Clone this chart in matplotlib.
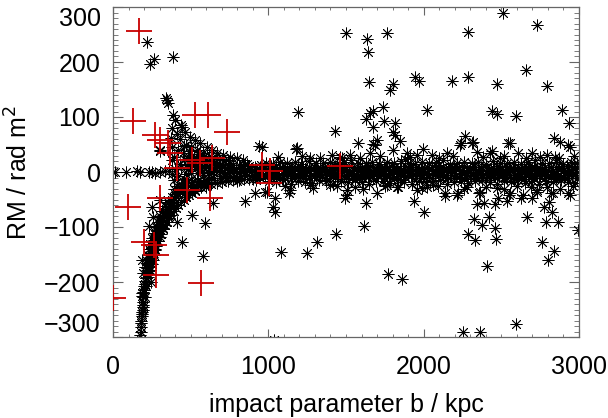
import matplotlib
matplotlib.use("Agg")
import matplotlib.pyplot as plt
from matplotlib.ticker import MultipleLocator

plt.rcParams['font.family'] = ['Liberation Sans', 'DejaVu Sans']

# ---------------- data ----------------
# dense band of sources around RM ~ 0
band_b_a = [460, 495, 528, 566, 601, 634, 671, 703, 740, 772, 808, 843, 877, 912, 948, 981, 1017, 1050, 1086, 1119,
            1155, 1190, 1224, 1259, 1293, 1330, 1362, 1398, 1431, 1467, 1500, 1536, 1570, 1605, 1639, 1674, 1709,
            1743, 1778, 1812, 1848, 1881, 1917, 1950, 1986, 2019, 2055, 2090, 2124, 2158, 2193, 2229, 2262, 2298,
            2331, 2367, 2400, 2436, 2470, 2505, 2539, 2574, 2609, 2643, 2678, 2712, 2748, 2781, 2817, 2850, 2886,
            2920, 2955, 2990]
band_b_b = [478, 511, 547, 583, 617, 652, 687, 722, 756, 790, 825, 860, 895, 930, 964, 999, 1034, 1068, 1102, 1137,
            1172, 1207, 1241, 1276, 1311, 1346, 1380, 1414, 1449, 1484, 1518, 1553, 1588, 1622, 1657, 1691, 1726,
            1760, 1795, 1830, 1864, 1899, 1933, 1968, 2002, 2037, 2072, 2107, 2141, 2176, 2211, 2245, 2280, 2315,
            2349, 2384, 2418, 2453, 2488, 2522, 2557, 2591, 2626, 2661, 2695, 2730, 2765, 2799, 2834, 2868, 2903,
            2938, 2972]
band_b_c = [470, 505, 540, 575, 610, 645, 680, 713, 748, 781, 816, 851, 886, 921, 956, 990, 1025, 1059, 1094, 1128,
            1163, 1198, 1232, 1267, 1302, 1337, 1371, 1406, 1440, 1475, 1509, 1544, 1579, 1613, 1648, 1683, 1717,
            1752, 1786, 1821, 1856, 1890, 1925, 1959, 1994, 2028, 2063, 2098, 2132, 2167, 2202, 2237, 2271, 2306,
            2340, 2375, 2409, 2444, 2479, 2513, 2548, 2583, 2617, 2652, 2687, 2721, 2756, 2790, 2825, 2859, 2894,
            2929, 2963, 2997]
band_rm_a = [24, 22, 19, 20, 17, 16, 15, 14, 13, 12, 12, 11, 11,
             9, 10, 8, 11, 9, 10, 8, 9, 11, 8, 10, 9, 7, 10, 9, 11, 8, 9, 10, 8, 9, 11, 10, 8, 9, 10, 9, 8, 11, 9,
             10, 8, 9, 10, 11, 9, 8, 10, 9, 11, 8, 9, 10, 9, 8, 11, 10, 9, 8, 10, 9, 11, 9, 8, 10, 9, 10, 8, 11, 9, 10]
band_rm_e = [-40, -36, -32, -28, -25, -22, -20, -18, -16, -15, -14, -13, -12,
             -9, -11, -8, -10, -9, -12, -8, -10, -9, -11, -10, -8, -9, -11, -10, -9, -12, -8, -10, -9, -11, -9,
             -10, -8, -11, -9, -10, -12, -9, -8, -10, -11, -9, -10, -8, -9, -11, -10, -9, -12, -8, -10, -9, -11,
             -9, -10, -8, -11, -10, -9, -12, -9, -10, -8, -11, -9, -10, -9, -11, -8, -10]
band_rm_b = [12, 11, 10, 9, 8, 8, 7, 7, 6, 6, 5, 5,
             4, 3, 5, 4, 2, 5, 3, 4, 6, 3, 4, 5, 2, 4, 3, 5, 4, 6, 3, 4, 5, 3, 4, 2, 5, 4, 3, 6, 4, 5, 3, 4, 2, 5,
             4, 3, 5, 4, 6, 3, 4, 5, 3, 4, 2, 5, 4, 3, 5, 4, 6, 3, 4, 5, 3, 4, 2, 5, 4, 3, 5]
band_rm_d = [-20, -18, -16, -14, -12, -11, -10, -9, -8, -7, -7, -6,
             -5, -4, -6, -5, -3, -6, -4, -5, -7, -4, -5, -6, -3, -5, -4, -6, -5, -7, -4, -5, -6, -4, -5, -3, -6,
             -5, -4, -7, -5, -6, -4, -5, -3, -6, -5, -4, -6, -5, -7, -4, -5, -6, -4, -5, -3, -6, -5, -4, -6, -5,
             -7, -4, -5, -6, -4, -5, -3, -6, -5, -4, -6]
band_rm_c = [-3, -2, -1, 0, -1, 0, 1, 0, -1, 0, 1, 0, 0,
             0, 1, -1, 0, 2, -1, 0, 1, -2, 0, 1, -1, 0, 2, 0, -1, 1, 0, -2, 1, 0, -1, 0, 2, -1, 1, 0, -1, 0, 1,
             -2, 0, 1, -1, 0, 2, 0, -1, 1, 0, -1, 0, 2, -1, 1, 0, -1, 0, 1, -2, 0, 1, -1, 0, 2, 0, -1, 1, 0, -1, 0]

# fringe of the band
halo_up_b = [985, 1030, 1078, 1121, 1170, 1213, 1262, 1304, 1350, 1397, 1441, 1488, 1533, 1579, 1626, 1668, 1715,
             1761, 1806, 1852, 1897, 1944, 1990, 2033, 2080, 2125, 2171, 2217, 2262, 2308, 2353, 2399, 2445, 2490,
             2536, 2580, 2627, 2672, 2718, 2763, 2809, 2855, 2900, 2946, 2990]
halo_up_rm = [17, 15, 19, 16, 18, 15, 20, 17, 16, 19, 15, 18, 21, 16, 17, 19, 15, 18, 16, 20, 17, 15, 19, 16, 18,
              21, 15, 17, 19, 16, 18, 15, 20, 17, 16, 19, 15, 18, 21, 16, 17, 19, 15, 18, 16]
halo_dn_b = [1003, 1052, 1097, 1144, 1190, 1236, 1281, 1327, 1373, 1419, 1465, 1510, 1556, 1602, 1648, 1693, 1739,
             1785, 1830, 1876, 1922, 1967, 2013, 2058, 2104, 2150, 2196, 2241, 2287, 2333, 2378, 2424, 2470, 2515,
             2561, 2607, 2652, 2698, 2744, 2789, 2835, 2881, 2926, 2972]
halo_dn_rm = [-17, -19, -15, -21, -16, -18, -20, -15, -17, -22, -16, -19, -15, -18, -21, -17, -16, -20, -15, -18,
              -22, -16, -19, -17, -15, -21, -18, -16, -20, -17, -15, -19, -22, -16, -18, -15, -20, -17, -21, -16,
              -19, -15, -18, -20]
outer_b = [1060, 1215, 1330, 1460, 1590, 1720, 1880, 1910, 2100, 2190, 2380, 2520, 2660, 2750, 2870, 2970,
           1110, 1290, 1440, 1560, 1610, 1750, 1990, 2090, 2260, 2400, 2520, 2600, 2690, 2880, 2960]
outer_rm = [27, 30, 25, 28, 26, 30, 24, 28, 26, 29, 27, 30, 25, 28, 26, 29,
            -26, -29, -25, -28, -31, -26, -29, -25, -31, -27, -30, -26, -28, -30, -26]

# where the two arms merge
wedge_b = [360, 380, 400, 420, 440, 460, 480, 500, 520, 540, 560, 580, 600, 630, 660, 690, 720, 760, 800, 850,
           900, 950, 395, 430, 465, 500, 535, 570, 610, 650, 700, 750, 800, 860, 920, 410, 445, 480, 520, 560,
           600, 640]
wedge_rm = [2, -3, 5, -8, 10, -12, 6, -2, 14, -18, 8, -5, 12, -10, 4, 13, -8, 9, -11, 14, -13, 12,
            -15, 15, -20, 20, -25, 25, -22, 18, -18, 17, -16, 14, -14, -25, -28, 24, -30, 30, -28, 26]

# sources with RM = 0 at small impact parameter
zero_b = [3, 13, 84, 155, 174, 232, 251, 270, 303, 335]
zero_rm = [0, 0, 0, 1, 0, 0, 0, -1, 0, 1]

# upper arm (positive RM converging to zero)
upper_b = [341, 354, 387, 380, 444, 373, 380, 303, 393, 437, 463, 496, 528, 560, 605, 637, 669, 708, 753, 798,
           837, 303, 380, 410, 430, 470, 500, 540, 580, 620, 660, 700, 740, 420, 450, 480, 520, 560, 600, 345,
           400, 455, 490, 545, 585, 640, 690]
upper_rm = [134, 125, 104, 80, 82, 62, 45, 38, 27, 85, 73, 64, 58, 53, 45, 40, 35, 31, 27, 25,
            22, 40, 22, 70, 60, 50, 45, 40, 35, 30, 27, 24, 21, 40, 35, 30, 28, 25, 22, 131,
            95, 48, 38, 33, 30, 18, 15]

# lower arm (negative RM converging to zero)
lower_b = [174, 178, 180, 183, 187, 185, 190, 193, 188, 196, 200, 206, 212, 219, 225, 222, 232, 238, 243, 248,
           252, 258, 265, 270, 278, 285, 292, 300, 308, 316, 325, 334, 343, 352, 362, 372, 383, 394, 406, 418,
           431, 445, 460,
           238, 248, 255, 262, 270, 280, 290, 300, 312, 322, 335, 348, 360, 375, 390, 405, 420, 437, 455, 472,
           490, 510, 530,
           215, 225, 232, 240, 250, 262, 275, 288, 300, 318, 335, 355, 378, 400, 425, 450,
           232, 258, 251, 303, 206, 193, 187, 187, 245, 395, 415, 440, 470, 500, 540, 580]
lower_rm = [-296, -290, -282, -270, -262, -255, -246, -236, -226, -218, -208, -199, -192, -186, -180, -172, -165,
            -158, -150, -143, -136, -130, -124, -118, -112, -106, -100, -95, -89, -84, -78, -73, -68, -63, -59,
            -55, -51, -47, -43, -40, -37, -34, -31,
            -178, -168, -160, -150, -142, -134, -126, -119, -112, -104, -97, -90, -84, -78, -71, -66, -60, -55,
            -50, -46, -42, -38, -34,
            -160, -150, -140, -130, -120, -110, -100, -90, -80, -70, -62, -54, -46, -40, -34, -28,
            -98, -82, -64, -51, -173, -184, -160, -220, -200, -30, -25, -22, -20, -24, -22, -18]
arm2_b = [182, 186, 190, 195, 199, 204, 210, 216, 222, 229, 236, 244, 252, 260, 268, 277, 286, 296, 306, 317,
          328, 340, 352, 365, 378]
arm2_rm = [-275, -258, -242, -228, -215, -203, -193, -183, -174, -165, -156, -147, -139, -131, -123, -115, -108,
           -101, -94, -87, -80, -74, -68, -62, -57]
arm3_b = [196, 205, 214, 226, 238, 252, 268, 284, 302, 320, 340, 362]
arm3_rm = [-250, -228, -208, -190, -172, -155, -140, -126, -113, -101, -90, -80]

# scattered sources
scat_b = [219, 264, 238, 386,
          1500, 1635, 1764, 1642, 1648, 1803, 1783, 1944, 1970,
          1191, 1738, 1655, 1674, 1629, 1745, 1815, 1674, 1803, 1815, 1429, 1848, 1577, 1674, 1700, 2022, 1185,
          959, 2286, 2511, 2730, 2183, 2286, 2472, 2659, 2794, 2440, 2472, 2595, 2891, 2936, 2266, 2240, 2318,
          2440, 2556, 2698, 2839, 2878, 2930, 2150, 1996,
          1410, 1687, 1526, 1655, 1803, 1893, 1957, 2054, 2234, 2311, 2343, 2427, 2543, 2607, 2794, 2942, 2846,
          1268, 1474, 2491, 940, 1178,
          2002, 2137, 2214, 2356, 2343, 2388, 2459, 2479, 2537, 2549, 2627, 2698, 2665, 2421, 2324, 2376, 2459,
          2286, 2330, 2466, 2775, 2807, 2826, 2788, 2865, 2762, 2839, 2801, 2408, 2595, 2253, 2363, 2942, 2730,
          2820, 2021,
          1082, 1249, 1313, 1436, 1616, 1629, 1938, 1770, 1861, 1043, 1030, 1043, 1494, 1507, 1133, 1700, 1397,
          979, 1764, 1835, 1035,
          991, 1140, 1268, 1507, 1829, 1957, 2137, 2221, 2363, 2472, 2556, 2640, 2730, 2833, 2930, 2060, 2279,
          2794,
          444, 579, 592, 509, 412, 644, 850, 914, 2994]
scat_rm = [236, 205, 196, 209,
           253, 242, 253, 218, 163, 160, 150, 172, 166,
           109, 118, 107, 111, 96, 93, 89, 82, 73, 67, 75, 56, 53, 51, 58, 113, 44,
           45, 255, 289, 267, 165, 172, 160, 185, 157, 111, 105, 102, 113, 89, 65, 53, 55,
           38, 53, 35, 62, 55, 49, 35, 42,
           31, 49, 31, 35, 40, 35, 31, 31, 49, 53, 36, 35, 53, 35, 31, 45, 27,
           25, 25, 25, 47, 42,
           -73, -44, -42, -38, -58, -56, -58, -47, -53, -42, -47, -47, -82, -82, -85, -96, -102,
           -113, -124, -122, -64, -55, -73, -91, -91, -127, -144, -160, -171, -276, -291, -291, -42, -36,
           -38, -27,
           -145, -147, -127, -113, -98, -56, -53, -185, -195, -73, -64, -47, -47, -42, -38, -38, -24,
           -36, -24, -27, -306,
           -36, -33, -24, -33, -27, -33, -38, -38, -36, -29, -38, -42, -33, -38, -38, -24, -27,
           -27,
           -127, -153, -93, -78, -91, -56, -53, -38, -105]

# red crosses (second sample)
red_b = [167, 129, 270, 303, 354, 367, 528, 612, 734, 412, 509, 560, 637, 476, 624, 303, 97, 197, 264, 277, 277,
         566, 0, 960, 1011, 1005, 1461]
red_rm = [256, 93, 67, 58, 53, 35, 104, 104, 73, 7, 22, 16, 25, -33, -47, -47, -63, -127, -133, -150, -187,
          -202, -229, 13, 2, -20, 11]

x_ticks = [0, 1000, 2000, 3000]
y_ticks = [-300, -200, -100, 0, 100, 200, 300]

# ---------------- plot ----------------
fig = plt.figure(figsize=(6.08, 4.18), dpi=100)
ax = fig.add_axes([113 / 608, 81 / 418, 466 / 608, 330 / 418])

ast = dict(marker=(8, 2, 0), linestyle='none', color='black', markersize=8.5, markeredgewidth=0.6)
series = [(band_b_a, band_rm_a), (band_b_b, band_rm_b), (band_b_c, band_rm_c),
          (band_b_b, band_rm_d), (band_b_a, band_rm_e),
          (halo_up_b, halo_up_rm), (halo_dn_b, halo_dn_rm), (outer_b, outer_rm),
          (wedge_b, wedge_rm), (zero_b, zero_rm), (upper_b, upper_rm), (lower_b, lower_rm),
          (arm2_b, arm2_rm), (arm3_b, arm3_rm), (scat_b, scat_rm)]
for bb, rr in series:
    n = min(len(bb), len(rr))
    ax.plot(bb[:n], rr[:n], **ast)

ax.plot(red_b, red_rm, marker='+', linestyle='none', color='#c80000', markersize=19,
        markeredgewidth=1.3, zorder=5)

ax.set_xlim(0, 3000)
ax.set_ylim(-300, 300)
ax.set_xticks(x_ticks)
ax.set_yticks(y_ticks)
ax.xaxis.set_minor_locator(MultipleLocator(100))
ax.yaxis.set_minor_locator(MultipleLocator(10))
ax.tick_params(which='both', direction='in', top=True, right=True, color='0.4', labelsize=18)
ax.tick_params(axis='x', which='major', length=5.5, pad=13)
ax.tick_params(axis='x', which='minor', length=2.5)
ax.tick_params(axis='y', which='major', length=7, pad=9)
ax.tick_params(axis='y', which='minor', length=3.6)
for s in ax.spines.values():
    s.set_color('0.4')
    s.set_linewidth(0.9)

ylabs = ax.get_yticklabels()
ylabs[0].set_verticalalignment('bottom')
ylabs[-1].set_verticalalignment('top')

ax.set_xlabel('impact parameter b / kpc', fontsize=18, labelpad=10)
ax.set_ylabel('RM / rad m$^{2}$', fontsize=18, labelpad=8)

fig.savefig('out.png', dpi=100)
